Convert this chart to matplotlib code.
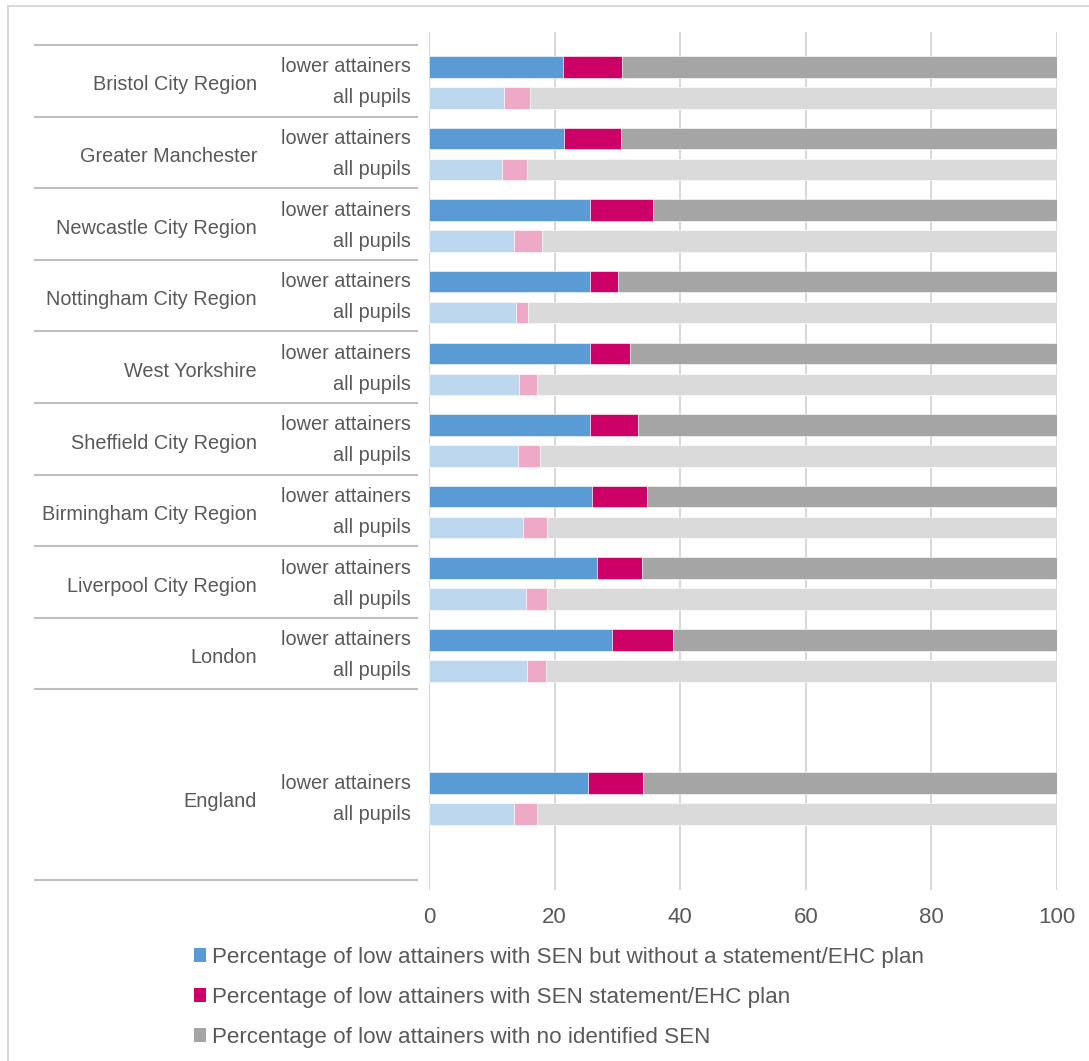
import numpy as np
import matplotlib
matplotlib.use("Agg")
import matplotlib.pyplot as plt
from matplotlib.patches import Rectangle, Patch

plt.rcParams['font.family'] = ['Liberation Sans', 'DejaVu Sans']

regions = ["Bristol City Region", "Greater Manchester", "Newcastle City Region",
           "Nottingham City Region", "West Yorkshire", "Sheffield City Region",
           "Birmingham City Region", "Liverpool City Region", "London", "England"]
# group slot of each region (England sits after one blank slot)
slots = [0, 1, 2, 3, 4, 5, 6, 7, 8, 10]

# lower attainers
low_sen = [21.3, 21.5, 25.6, 25.6, 25.6, 25.6, 26.0, 26.7, 29.2, 25.3]
low_plan = [9.5, 9.1, 10.1, 4.5, 6.4, 7.7, 8.7, 7.2, 9.7, 8.8]
# all pupils
all_sen = [11.9, 11.6, 13.6, 13.9, 14.3, 14.1, 14.9, 15.4, 15.6, 13.5]
all_plan = [4.2, 4.0, 4.4, 1.9, 2.9, 3.6, 3.9, 3.4, 3.1, 3.7]

legend_labels = ["Percentage of low attainers with SEN but without a statement/EHC plan",
                 "Percentage of low attainers with SEN statement/EHC plan",
                 "Percentage of low attainers with no identified SEN"]
xticks = [0, 20, 40, 60, 80, 100]

dark = ["#5B9BD5", "#CC0066", "#A5A5A5"]
light = ["#BDD7EE", "#EDA9C6", "#DADADA"]
txt = "#595959"
grid = "#D9D9D9"

W, H = 1089, 1061
fig = plt.figure(figsize=(W / 100, H / 100), dpi=100)

# outer frame (runs off the right and bottom edges)
fig.patches.append(Rectangle((8 / W, -0.2), 1.2, 1.2 - 6 / H, transform=fig.transFigure,
                             fill=False, edgecolor=grid, lw=1.5))

ax = fig.add_axes([429 / W, 1 - 890 / H, 628 / W, 858 / H])

low_sen = np.array(low_sen)
low_plan = np.array(low_plan)
all_sen = np.array(all_sen)
all_plan = np.array(all_plan)
s = np.array(slots, dtype=float)
y_low = s + 0.307
y_all = s + 0.74
h = 0.30

for vals, y, cols in [((low_sen, low_plan), y_low, dark), ((all_sen, all_plan), y_all, light)]:
    a, b = vals
    c = 100 - a - b
    ax.barh(y, a, height=h, color=cols[0], edgecolor="white", lw=0.4)
    ax.barh(y, b, left=a, height=h, color=cols[1], edgecolor="white", lw=0.4)
    ax.barh(y, c, left=a + b, height=h, color=cols[2], edgecolor="white", lw=0.4)

ax.set_xlim(0, 100)
ax.set_ylim(11.80, -0.18)
ax.set_xticks(xticks)
ax.set_xticklabels([str(v) for v in xticks])
ax.tick_params(axis='x', length=0, pad=12, labelsize=16, labelcolor=txt)
ax.set_yticks([])
for sp in ax.spines.values():
    sp.set_visible(False)
ax.grid(axis='x', color=grid, lw=1.5)
ax.set_axisbelow(True)

tr = ax.get_yaxis_transform()
x0 = (35 - 429) / 628
x1 = (417 - 429) / 628
for yy in list(range(10)) + [11.66]:
    ax.plot([x0, x1], [yy, yy], transform=tr, color="#BFBFBF", lw=1.5, clip_on=False)

xg = (257 - 429) / 628
xs = (411 - 429) / 628
for name, sl, yl, ya in zip(regions, slots, y_low, y_all):
    ax.text(xg, sl + 0.56, name, transform=tr, ha='right', va='center',
            fontsize=14.3, color=txt)
    ax.text(xs, yl, "lower attainers", transform=tr, ha='right', va='center',
            fontsize=14.3, color=txt)
    ax.text(xs, ya, "all pupils", transform=tr, ha='right', va='center',
            fontsize=14.3, color=txt)

handles = [Patch(facecolor=c, edgecolor='none') for c in dark]
fig.legend(handles, legend_labels, loc='upper left',
           bbox_to_anchor=(194 / W, 1 - 947 / H), frameon=False,
           fontsize=16.1, labelcolor=txt, handlelength=0.55, handleheight=0.55,
           handletextpad=0.27, labelspacing=0.85, borderpad=0, borderaxespad=0)

fig.savefig("out.png", dpi=100)
